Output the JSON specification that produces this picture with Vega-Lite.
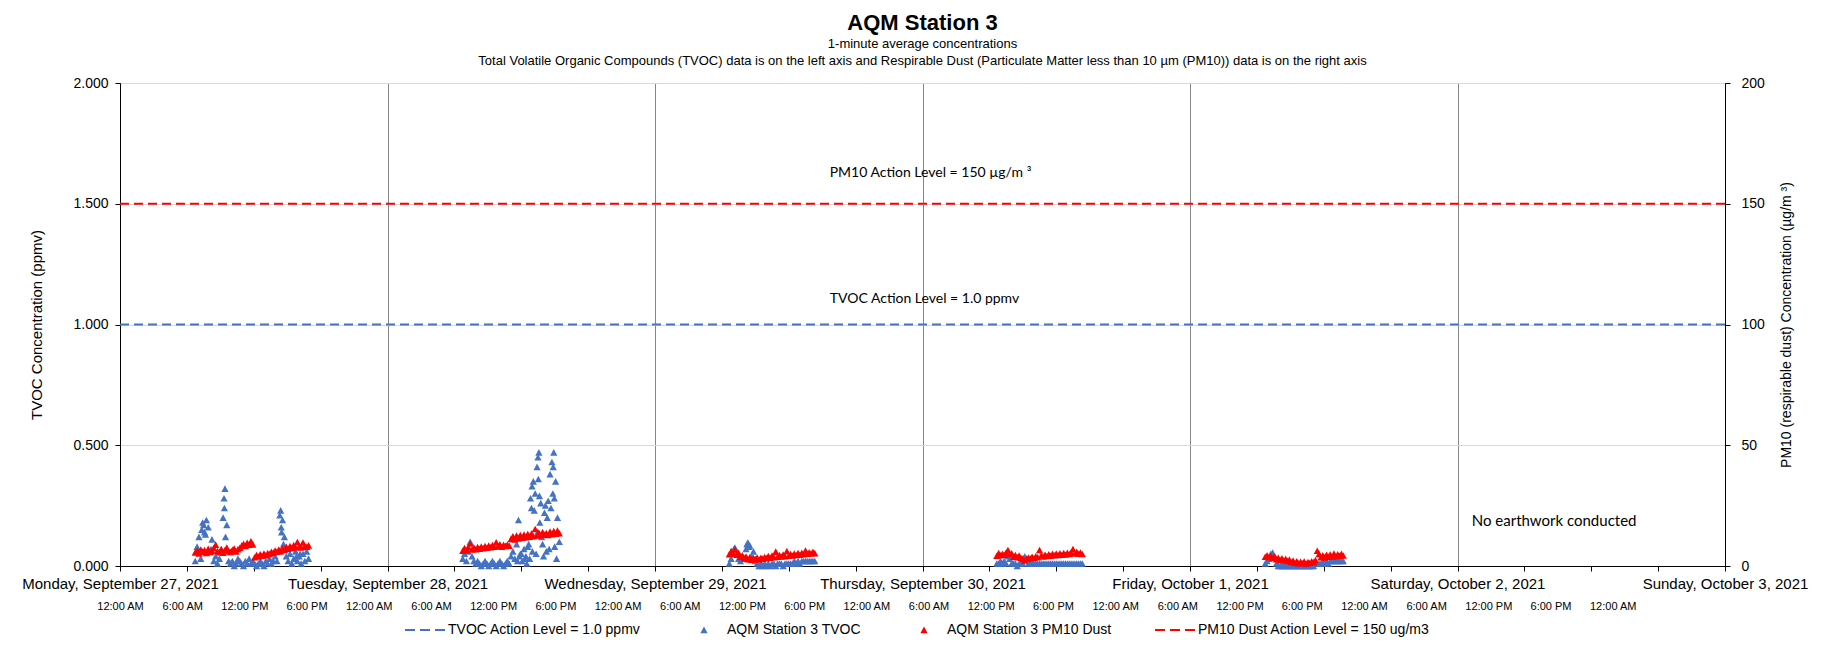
{
  "$schema": "https://vega.github.io/schema/vega-lite/v6.json",
  "autosize": {"type": "fit", "contains": "padding"},
  "width": 1825,
  "height": 647,
  "padding": {"left": 21, "top": 12, "right": 17, "bottom": 36},
  "background": "white",
  "title": {
    "text": "AQM Station 3",
    "subtitle": ["1-minute average concentrations", "Total Volatile Organic Compounds (TVOC) data is on the left axis and Respirable Dust (Particulate Matter less than 10 µm (PM10)) data is on the right axis"],
    "anchor": "middle",
    "font": "Liberation Sans", "fontSize": 22, "fontWeight": "bold", "color": "black",
    "subtitleFont": "Liberation Sans", "subtitleFontSize": 13, "subtitleColor": "black",
    "subtitleLineHeight": 17, "subtitlePadding": 3, "offset": 7
  },
  "data": {"values": [
    {"t":"2021-09-27T06:45","tvoc":0.02,"pm10":5.6},{"t":"2021-09-27T06:55","tvoc":0.08,"pm10":6.4},{"t":"2021-09-27T07:05","tvoc":0.12,"pm10":5.2},{"t":"2021-09-27T07:15","tvoc":0.03,"pm10":6.8},{"t":"2021-09-27T07:25","tvoc":0.18,"pm10":5.9},{"t":"2021-09-27T07:35","tvoc":0.14,"pm10":6.6},{"t":"2021-09-27T07:45","tvoc":0.19,"pm10":5.4},{"t":"2021-09-27T07:55","tvoc":0.16,"pm10":7.1},{"t":"2021-09-27T08:05","tvoc":0.06,"pm10":5.8},{"t":"2021-09-27T08:15","tvoc":0.11,"pm10":6.3},{"t":"2021-09-27T08:25","tvoc":0.02,"pm10":7.4},{"t":"2021-09-27T08:35","tvoc":0.04,"pm10":8.8},{"t":"2021-09-27T08:45","tvoc":0.01,"pm10":6.2},{"t":"2021-09-27T08:55","tvoc":0.03,"pm10":5.7},{"t":"2021-09-27T09:05","tvoc":0.07,"pm10":6.9},{"t":"2021-09-27T09:15","tvoc":0.20,"pm10":5.5},{"t":"2021-09-27T09:25","tvoc":0.32,"pm10":6.6},{"t":"2021-09-27T09:35","tvoc":0.17,"pm10":7.6},{"t":"2021-09-27T09:45","tvoc":0.02,"pm10":6.1},{"t":"2021-09-27T09:55","tvoc":0.01,"pm10":5.8},{"t":"2021-09-27T10:05","tvoc":0.02,"pm10":6.7},{"t":"2021-09-27T10:15","tvoc":0.00,"pm10":7.2},{"t":"2021-09-27T10:25","tvoc":0.01,"pm10":6.0},{"t":"2021-09-27T10:35","tvoc":0.03,"pm10":6.9},{"t":"2021-09-27T10:45","tvoc":0.02,"pm10":7.5},{"t":"2021-09-27T10:55","tvoc":0.01,"pm10":8.4},{"t":"2021-09-27T11:05","tvoc":0.00,"pm10":9.1},{"t":"2021-09-27T11:15","tvoc":0.02,"pm10":8.3},{"t":"2021-09-27T11:25","tvoc":0.01,"pm10":9.6},{"t":"2021-09-27T11:35","tvoc":0.03,"pm10":8.8},{"t":"2021-09-27T11:45","tvoc":0.01,"pm10":10.2},{"t":"2021-09-27T11:55","tvoc":0.02,"pm10":8.9},{"t":"2021-09-27T12:05","tvoc":0.01,"pm10":3.6},{"t":"2021-09-27T12:15","tvoc":0.00,"pm10":4.5},{"t":"2021-09-27T12:25","tvoc":0.01,"pm10":3.9},{"t":"2021-09-27T12:35","tvoc":0.02,"pm10":4.8},{"t":"2021-09-27T12:45","tvoc":0.01,"pm10":4.2},{"t":"2021-09-27T12:55","tvoc":0.00,"pm10":5.1},{"t":"2021-09-27T13:05","tvoc":0.02,"pm10":4.4},{"t":"2021-09-27T13:15","tvoc":0.01,"pm10":5.3},{"t":"2021-09-27T13:25","tvoc":0.03,"pm10":4.9},{"t":"2021-09-27T13:35","tvoc":0.01,"pm10":5.8},{"t":"2021-09-27T13:45","tvoc":0.02,"pm10":5.5},{"t":"2021-09-27T13:55","tvoc":0.04,"pm10":6.4},{"t":"2021-09-27T14:05","tvoc":0.02,"pm10":5.9},{"t":"2021-09-27T14:15","tvoc":0.06,"pm10":6.8},{"t":"2021-09-27T14:25","tvoc":0.23,"pm10":6.1},{"t":"2021-09-27T14:35","tvoc":0.19,"pm10":7.3},{"t":"2021-09-27T14:45","tvoc":0.12,"pm10":6.6},{"t":"2021-09-27T14:55","tvoc":0.04,"pm10":7.9},{"t":"2021-09-27T15:05","tvoc":0.02,"pm10":7.1},{"t":"2021-09-27T15:15","tvoc":0.05,"pm10":8.2},{"t":"2021-09-27T15:25","tvoc":0.01,"pm10":7.4},{"t":"2021-09-27T15:35","tvoc":0.03,"pm10":8.6},{"t":"2021-09-27T15:45","tvoc":0.06,"pm10":7.7},{"t":"2021-09-27T15:55","tvoc":0.02,"pm10":9.9},{"t":"2021-09-27T16:05","tvoc":0.04,"pm10":8.1},{"t":"2021-09-27T16:15","tvoc":0.01,"pm10":7.6},{"t":"2021-09-27T16:25","tvoc":0.05,"pm10":9.7},{"t":"2021-09-27T16:35","tvoc":0.02,"pm10":8.3},{"t":"2021-09-27T16:45","tvoc":0.06,"pm10":7.9},{"t":"2021-09-27T16:55","tvoc":0.03,"pm10":8.5},
    {"t":"2021-09-27T07:20","tvoc":0.15},{"t":"2021-09-27T07:30","tvoc":0.17},{"t":"2021-09-27T07:40","tvoc":0.13},{"t":"2021-09-27T08:10","tvoc":0.07},{"t":"2021-09-27T09:20","tvoc":0.28},{"t":"2021-09-27T09:22","tvoc":0.24},{"t":"2021-09-27T09:28","tvoc":0.12},{"t":"2021-09-27T14:20","tvoc":0.21},{"t":"2021-09-27T14:28","tvoc":0.16},{"t":"2021-09-27T14:30","tvoc":0.14},{"t":"2021-09-27T14:40","tvoc":0.09},{"t":"2021-09-27T15:50","tvoc":0.04},{"t":"2021-09-27T16:10","tvoc":0.05},
    {"t":"2021-09-28T06:45","tvoc":0.03,"pm10":6.3},{"t":"2021-09-28T06:55","tvoc":0.05,"pm10":7.4},{"t":"2021-09-28T07:05","tvoc":0.02,"pm10":6.5},{"t":"2021-09-28T07:15","tvoc":0.06,"pm10":7.7},{"t":"2021-09-28T07:25","tvoc":0.10,"pm10":9.3},{"t":"2021-09-28T07:35","tvoc":0.04,"pm10":6.8},{"t":"2021-09-28T07:45","tvoc":0.02,"pm10":7.6},{"t":"2021-09-28T07:55","tvoc":0.01,"pm10":6.9},{"t":"2021-09-28T08:05","tvoc":0.02,"pm10":7.8},{"t":"2021-09-28T08:15","tvoc":0.01,"pm10":7.1},{"t":"2021-09-28T08:25","tvoc":0.00,"pm10":8.0},{"t":"2021-09-28T08:35","tvoc":0.01,"pm10":7.3},{"t":"2021-09-28T08:45","tvoc":0.02,"pm10":8.2},{"t":"2021-09-28T08:55","tvoc":0.01,"pm10":7.5},{"t":"2021-09-28T09:05","tvoc":0.00,"pm10":8.4},{"t":"2021-09-28T09:15","tvoc":0.01,"pm10":7.7},{"t":"2021-09-28T09:25","tvoc":0.02,"pm10":8.6},{"t":"2021-09-28T09:35","tvoc":0.01,"pm10":7.9},{"t":"2021-09-28T09:45","tvoc":0.00,"pm10":9.8},{"t":"2021-09-28T09:55","tvoc":0.01,"pm10":8.2},{"t":"2021-09-28T10:05","tvoc":0.02,"pm10":8.9},{"t":"2021-09-28T10:15","tvoc":0.01,"pm10":8.0},{"t":"2021-09-28T10:25","tvoc":0.00,"pm10":8.7},{"t":"2021-09-28T10:35","tvoc":0.01,"pm10":8.3},{"t":"2021-09-28T10:45","tvoc":0.02,"pm10":8.8},{"t":"2021-09-28T10:55","tvoc":0.01,"pm10":8.4},{"t":"2021-09-28T11:05","tvoc":0.04,"pm10":11.2},{"t":"2021-09-28T11:15","tvoc":0.06,"pm10":12.3},{"t":"2021-09-28T11:25","tvoc":0.03,"pm10":11.0},{"t":"2021-09-28T11:35","tvoc":0.09,"pm10":12.6},{"t":"2021-09-28T11:45","tvoc":0.19,"pm10":11.4},{"t":"2021-09-28T11:55","tvoc":0.05,"pm10":12.8},{"t":"2021-09-28T12:05","tvoc":0.02,"pm10":11.7},{"t":"2021-09-28T12:15","tvoc":0.07,"pm10":13.0},{"t":"2021-09-28T12:25","tvoc":0.04,"pm10":11.9},{"t":"2021-09-28T12:35","tvoc":0.08,"pm10":13.2},{"t":"2021-09-28T12:45","tvoc":0.03,"pm10":12.1},{"t":"2021-09-28T12:55","tvoc":0.24,"pm10":13.4},{"t":"2021-09-28T13:05","tvoc":0.35,"pm10":12.3},{"t":"2021-09-28T13:15","tvoc":0.30,"pm10":15.3},{"t":"2021-09-28T13:25","tvoc":0.41,"pm10":12.6},{"t":"2021-09-28T13:35","tvoc":0.47,"pm10":13.8},{"t":"2021-09-28T13:45","tvoc":0.26,"pm10":12.7},{"t":"2021-09-28T13:55","tvoc":0.09,"pm10":14.0},{"t":"2021-09-28T14:05","tvoc":0.22,"pm10":12.9},{"t":"2021-09-28T14:15","tvoc":0.06,"pm10":13.6},{"t":"2021-09-28T14:25","tvoc":0.27,"pm10":12.8},{"t":"2021-09-28T14:35","tvoc":0.38,"pm10":14.2},{"t":"2021-09-28T14:45","tvoc":0.43,"pm10":13.1},{"t":"2021-09-28T14:55","tvoc":0.47,"pm10":14.4},{"t":"2021-09-28T15:05","tvoc":0.35,"pm10":13.3},{"t":"2021-09-28T15:15","tvoc":0.20,"pm10":14.6},{"t":"2021-09-28T15:25","tvoc":0.10,"pm10":13.5},
    {"t":"2021-09-28T11:40","tvoc":0.02},{"t":"2021-09-28T11:50","tvoc":0.04},{"t":"2021-09-28T12:00","tvoc":0.05},{"t":"2021-09-28T12:20","tvoc":0.03},{"t":"2021-09-28T12:30","tvoc":0.01},{"t":"2021-09-28T12:40","tvoc":0.09},{"t":"2021-09-28T12:50","tvoc":0.28},{"t":"2021-09-28T12:58","tvoc":0.33},{"t":"2021-09-28T13:00","tvoc":0.06},{"t":"2021-09-28T13:10","tvoc":0.23},{"t":"2021-09-28T13:20","tvoc":0.05},{"t":"2021-09-28T13:28","tvoc":0.14},{"t":"2021-09-28T13:30","tvoc":0.45},{"t":"2021-09-28T13:32","tvoc":0.36},{"t":"2021-09-28T13:38","tvoc":0.29},{"t":"2021-09-28T13:40","tvoc":0.18},{"t":"2021-09-28T13:50","tvoc":0.12},{"t":"2021-09-28T14:00","tvoc":0.04},{"t":"2021-09-28T14:10","tvoc":0.25},{"t":"2021-09-28T14:20","tvoc":0.20},{"t":"2021-09-28T14:30","tvoc":0.07},{"t":"2021-09-28T14:40","tvoc":0.24},{"t":"2021-09-28T14:50","tvoc":0.30},{"t":"2021-09-28T14:52","tvoc":0.41},{"t":"2021-09-28T14:58","tvoc":0.28},{"t":"2021-09-28T15:00","tvoc":0.08},{"t":"2021-09-28T15:10","tvoc":0.03},
    {"t":"2021-09-29T06:40","tvoc":0.01,"pm10":4.8},{"t":"2021-09-29T06:50","tvoc":0.03,"pm10":6.2},{"t":"2021-09-29T07:00","tvoc":0.05,"pm10":5.0},{"t":"2021-09-29T07:10","tvoc":0.076,"pm10":6.8},{"t":"2021-09-29T07:20","tvoc":0.06,"pm10":4.6},{"t":"2021-09-29T07:30","tvoc":0.03,"pm10":5.4},{"t":"2021-09-29T07:40","tvoc":0.02,"pm10":3.8},{"t":"2021-09-29T07:50","tvoc":0.04,"pm10":4.4},{"t":"2021-09-29T08:00","tvoc":0.03,"pm10":3.2},{"t":"2021-09-29T08:10","tvoc":0.07,"pm10":3.9},{"t":"2021-09-29T08:20","tvoc":0.097,"pm10":2.8},{"t":"2021-09-29T08:30","tvoc":0.085,"pm10":3.6},{"t":"2021-09-29T08:40","tvoc":0.04,"pm10":2.6},{"t":"2021-09-29T08:50","tvoc":0.06,"pm10":3.3},{"t":"2021-09-29T09:00","tvoc":0.02,"pm10":2.9},{"t":"2021-09-29T09:10","tvoc":0.01,"pm10":3.5},{"t":"2021-09-29T09:20","tvoc":0.00,"pm10":2.7},{"t":"2021-09-29T09:30","tvoc":0.01,"pm10":3.4},{"t":"2021-09-29T09:40","tvoc":0.00,"pm10":3.0},{"t":"2021-09-29T09:50","tvoc":0.01,"pm10":3.7},{"t":"2021-09-29T10:00","tvoc":0.00,"pm10":3.2},{"t":"2021-09-29T10:10","tvoc":0.01,"pm10":4.1},{"t":"2021-09-29T10:20","tvoc":0.00,"pm10":3.4},{"t":"2021-09-29T10:30","tvoc":0.01,"pm10":4.3},{"t":"2021-09-29T10:40","tvoc":0.01,"pm10":3.6},{"t":"2021-09-29T10:50","tvoc":0.00,"pm10":5.9},{"t":"2021-09-29T11:00","tvoc":0.01,"pm10":3.8},{"t":"2021-09-29T11:10","tvoc":0.01,"pm10":4.5},{"t":"2021-09-29T11:20","tvoc":0.01,"pm10":3.9},{"t":"2021-09-29T11:30","tvoc":0.00,"pm10":4.7},{"t":"2021-09-29T11:40","tvoc":0.01,"pm10":4.0},{"t":"2021-09-29T11:50","tvoc":0.01,"pm10":6.1},{"t":"2021-09-29T12:00","tvoc":0.01,"pm10":4.2},{"t":"2021-09-29T12:10","tvoc":0.01,"pm10":4.9},{"t":"2021-09-29T12:20","tvoc":0.01,"pm10":4.3},{"t":"2021-09-29T12:30","tvoc":0.02,"pm10":5.1},{"t":"2021-09-29T12:40","tvoc":0.01,"pm10":4.5},{"t":"2021-09-29T12:50","tvoc":0.02,"pm10":5.3},{"t":"2021-09-29T13:00","tvoc":0.01,"pm10":4.6},{"t":"2021-09-29T13:10","tvoc":0.02,"pm10":5.4},{"t":"2021-09-29T13:20","tvoc":0.02,"pm10":4.8},{"t":"2021-09-29T13:30","tvoc":0.02,"pm10":6.4},{"t":"2021-09-29T13:40","tvoc":0.02,"pm10":5.0},{"t":"2021-09-29T13:50","tvoc":0.02,"pm10":5.6},{"t":"2021-09-29T14:00","tvoc":0.02,"pm10":5.2},{"t":"2021-09-29T14:10","tvoc":0.02,"pm10":5.8},{"t":"2021-09-29T14:20","tvoc":0.02,"pm10":5.3},
    {"t":"2021-09-29T07:05","tvoc":0.07},{"t":"2021-09-29T08:15","tvoc":0.09},{"t":"2021-09-29T08:25","tvoc":0.08},
    {"t":"2021-09-30T06:40","tvoc":0.01,"pm10":4.2},{"t":"2021-09-30T06:50","tvoc":0.01,"pm10":5.3},{"t":"2021-09-30T07:00","tvoc":0.02,"pm10":4.4},{"t":"2021-09-30T07:10","tvoc":0.01,"pm10":5.0},{"t":"2021-09-30T07:20","tvoc":0.02,"pm10":4.6},{"t":"2021-09-30T07:30","tvoc":0.01,"pm10":5.5},{"t":"2021-09-30T07:40","tvoc":0.04,"pm10":6.6},{"t":"2021-09-30T07:50","tvoc":0.03,"pm10":4.8},{"t":"2021-09-30T08:00","tvoc":0.01,"pm10":5.2},{"t":"2021-09-30T08:10","tvoc":0.01,"pm10":3.8},{"t":"2021-09-30T08:20","tvoc":0.01,"pm10":4.5},{"t":"2021-09-30T08:30","tvoc":0.00,"pm10":3.6},{"t":"2021-09-30T08:40","tvoc":0.01,"pm10":4.3},{"t":"2021-09-30T08:50","tvoc":0.01,"pm10":3.4},{"t":"2021-09-30T09:00","tvoc":0.01,"pm10":3.0},{"t":"2021-09-30T09:10","tvoc":0.04,"pm10":2.3},{"t":"2021-09-30T09:20","tvoc":0.03,"pm10":2.9},{"t":"2021-09-30T09:30","tvoc":0.01,"pm10":3.5},{"t":"2021-09-30T09:40","tvoc":0.01,"pm10":3.1},{"t":"2021-09-30T09:50","tvoc":0.01,"pm10":3.8},{"t":"2021-09-30T10:00","tvoc":0.01,"pm10":3.3},{"t":"2021-09-30T10:10","tvoc":0.01,"pm10":4.0},{"t":"2021-09-30T10:20","tvoc":0.01,"pm10":3.6},{"t":"2021-09-30T10:30","tvoc":0.01,"pm10":6.6},{"t":"2021-09-30T10:40","tvoc":0.01,"pm10":4.4},{"t":"2021-09-30T10:50","tvoc":0.01,"pm10":3.9},{"t":"2021-09-30T11:00","tvoc":0.01,"pm10":4.6},{"t":"2021-09-30T11:10","tvoc":0.01,"pm10":4.1},{"t":"2021-09-30T11:20","tvoc":0.01,"pm10":4.8},{"t":"2021-09-30T11:30","tvoc":0.01,"pm10":4.2},{"t":"2021-09-30T11:40","tvoc":0.01,"pm10":5.0},{"t":"2021-09-30T11:50","tvoc":0.01,"pm10":4.4},{"t":"2021-09-30T12:00","tvoc":0.01,"pm10":5.1},{"t":"2021-09-30T12:10","tvoc":0.01,"pm10":4.5},{"t":"2021-09-30T12:20","tvoc":0.01,"pm10":5.2},{"t":"2021-09-30T12:30","tvoc":0.01,"pm10":4.6},{"t":"2021-09-30T12:40","tvoc":0.01,"pm10":5.3},{"t":"2021-09-30T12:50","tvoc":0.01,"pm10":4.7},{"t":"2021-09-30T13:00","tvoc":0.01,"pm10":5.4},{"t":"2021-09-30T13:10","tvoc":0.01,"pm10":4.9},{"t":"2021-09-30T13:20","tvoc":0.01,"pm10":5.6},{"t":"2021-09-30T13:30","tvoc":0.01,"pm10":7.0},{"t":"2021-09-30T13:40","tvoc":0.01,"pm10":5.2},{"t":"2021-09-30T13:50","tvoc":0.01,"pm10":5.8},{"t":"2021-09-30T14:00","tvoc":0.01,"pm10":5.0},{"t":"2021-09-30T14:10","tvoc":0.01,"pm10":5.5},{"t":"2021-09-30T14:20","tvoc":0.01,"pm10":4.9},
    {"t":"2021-10-01T06:45","tvoc":0.01,"pm10":3.8},{"t":"2021-10-01T06:55","tvoc":0.02,"pm10":4.4},{"t":"2021-10-01T07:05","tvoc":0.03,"pm10":3.6},{"t":"2021-10-01T07:15","tvoc":0.05,"pm10":4.2},{"t":"2021-10-01T07:25","tvoc":0.055,"pm10":3.4},{"t":"2021-10-01T07:35","tvoc":0.04,"pm10":3.9},{"t":"2021-10-01T07:45","tvoc":0.01,"pm10":2.8},{"t":"2021-10-01T07:55","tvoc":0.00,"pm10":3.4},{"t":"2021-10-01T08:05","tvoc":0.00,"pm10":2.5},{"t":"2021-10-01T08:15","tvoc":0.00,"pm10":3.1},{"t":"2021-10-01T08:25","tvoc":0.00,"pm10":2.3},{"t":"2021-10-01T08:35","tvoc":0.00,"pm10":2.9},{"t":"2021-10-01T08:45","tvoc":0.00,"pm10":2.1},{"t":"2021-10-01T08:55","tvoc":0.00,"pm10":2.6},{"t":"2021-10-01T09:05","tvoc":0.00,"pm10":1.6},{"t":"2021-10-01T09:15","tvoc":0.00,"pm10":2.2},{"t":"2021-10-01T09:25","tvoc":0.00,"pm10":1.3},{"t":"2021-10-01T09:35","tvoc":0.00,"pm10":1.9},{"t":"2021-10-01T09:45","tvoc":0.00,"pm10":1.1},{"t":"2021-10-01T09:55","tvoc":0.00,"pm10":1.7},{"t":"2021-10-01T10:05","tvoc":0.00,"pm10":1.2},{"t":"2021-10-01T10:15","tvoc":0.00,"pm10":1.8},{"t":"2021-10-01T10:25","tvoc":0.00,"pm10":1.0},{"t":"2021-10-01T10:35","tvoc":0.00,"pm10":1.6},{"t":"2021-10-01T10:45","tvoc":0.00,"pm10":1.3},{"t":"2021-10-01T10:55","tvoc":0.00,"pm10":1.9},{"t":"2021-10-01T11:05","tvoc":0.00,"pm10":1.5},{"t":"2021-10-01T11:15","tvoc":0.01,"pm10":2.4},{"t":"2021-10-01T11:25","tvoc":0.01,"pm10":6.3},{"t":"2021-10-01T11:35","tvoc":0.01,"pm10":4.9},{"t":"2021-10-01T11:45","tvoc":0.01,"pm10":3.6},{"t":"2021-10-01T11:55","tvoc":0.02,"pm10":4.4},{"t":"2021-10-01T12:05","tvoc":0.01,"pm10":3.5},{"t":"2021-10-01T12:15","tvoc":0.02,"pm10":4.6},{"t":"2021-10-01T12:25","tvoc":0.01,"pm10":3.8},{"t":"2021-10-01T12:35","tvoc":0.02,"pm10":4.7},{"t":"2021-10-01T12:45","tvoc":0.02,"pm10":3.9},{"t":"2021-10-01T12:55","tvoc":0.02,"pm10":5.1},{"t":"2021-10-01T13:05","tvoc":0.02,"pm10":4.0},{"t":"2021-10-01T13:15","tvoc":0.02,"pm10":4.8},{"t":"2021-10-01T13:25","tvoc":0.02,"pm10":4.1},{"t":"2021-10-01T13:35","tvoc":0.02,"pm10":5.0},{"t":"2021-10-01T13:45","tvoc":0.02,"pm10":4.3}
  ]},
  "layer": [
    {
      "layer": [
        {
          "layer": [
            {
              "mark": {"type": "point", "filled": true, "size": 1600, "opacity": 1},
              "encoding": {
                "x": {"field": "t", "type": "temporal",
                  "scale": {"domain": ["2021-09-27T00:00:00", "2021-10-03T00:00:00"]},
                  "axis": {"title": null, "tickCount": 24, "tickSize": 5, "grid": true, "gridColor": "#868686",
                    "labelExpr": "hours(datum.value) == 0 ? timeFormat(datum.value, '%A, %B %-d, %Y') : ''",
                    "gridOpacity": {"condition": {"test": "hours(datum.value) == 0", "value": 1}, "value": 0},
                    "labelFontSize": 15, "labelPadding": 5, "labelFlush": false, "labelOverlap": false, "labelLimit": 400}},
                "y": {"field": "tvoc", "type": "quantitative", "scale": {"domain": [0, 2], "nice": false},
                  "axis": {"orient": "left", "title": "TVOC Concentration (ppmv)",
                    "values": [0, 0.5, 1, 1.5, 2], "format": ".3f",
                    "tickSize": 5, "labelPadding": 7, "labelFontSize": 14, "grid": true, "gridColor": "#d9d9d9",
                    "titleFontSize": 15, "titlePadding": 28}},
                "color": {"datum": "AQM Station 3 TVOC", "type": "nominal",
                  "scale": {"domain": ["TVOC Action Level = 1.0 ppmv", "AQM Station 3 TVOC", "AQM Station 3 PM10 Dust", "PM10 Dust Action Level = 150 ug/m3"], "range": ["#4472C4", "#4472C4", "#FF0000", "#FF0000"]},
                  "legend": {"orient": "none", "legendX": 285, "legendY": 527, "direction": "horizontal", "title": null, "symbolSize": 1600, "symbolStrokeWidth": 0, "labelOffset": 3, "labelFont": "Liberation Sans", "labelFontSize": 14, "labelColor": "black", "columnPadding": 43, "labelLimit": 400}},
                "shape": {"datum": "AQM Station 3 TVOC", "type": "nominal",
                  "scale": {"domain": ["TVOC Action Level = 1.0 ppmv", "AQM Station 3 TVOC", "AQM Station 3 PM10 Dust", "PM10 Dust Action Level = 150 ug/m3"],
                    "range": ["M-1,-0.05L-0.5,-0.05L-0.5,0.05L-1,0.05Z M-0.25,-0.05L0.25,-0.05L0.25,0.05L-0.25,0.05Z M0.5,-0.05L1,-0.05L1,0.05L0.5,0.05Z", "M0,-0.17L0.18,0.16L-0.18,0.16Z", "M0,-0.17L0.18,0.16L-0.18,0.16Z", "M-1,-0.05L-0.5,-0.05L-0.5,0.05L-1,0.05Z M-0.25,-0.05L0.25,-0.05L0.25,0.05L-0.25,0.05Z M0.5,-0.05L1,-0.05L1,0.05L0.5,0.05Z"]},
                  "legend": {"orient": "none", "legendX": 285, "legendY": 527, "direction": "horizontal", "title": null, "symbolSize": 1600, "symbolStrokeWidth": 0, "labelOffset": 3, "labelFont": "Liberation Sans", "labelFontSize": 14, "labelColor": "black", "columnPadding": 43, "labelLimit": 400}}
              }
            },
            {
              "data": {"values": [{"tvoc": 1.0, "label": "TVOC Action Level = 1.0 ppmv"}]},
              "mark": {"type": "rule", "color": "#4472C4", "strokeWidth": 2, "strokeDash": [9, 5]},
              "encoding": {"y": {"field": "tvoc", "type": "quantitative"}}
            },
            {
              "data": {"values": [{"tvoc": 1.0, "label": "TVOC Action Level = 1.0 ppmv"}]},
              "mark": {"type": "text", "font": "Lato", "fontSize": 14, "color": "black", "dy": -26, "dx": 2},
              "encoding": {"y": {"field": "tvoc", "type": "quantitative"}, "text": {"field": "label"}}
            },
            {
              "data": {"values": [{"note": "No earthwork conducted", "t": "2021-10-02T08:40:00"}]},
              "mark": {"type": "text", "font": "Lato", "fontSize": 15, "color": "black"},
              "encoding": {
                "x": {"field": "t", "type": "temporal"},
                "y": {"datum": 0.185},
                "text": {"field": "note"}
              }
            }
          ]
        },
        {
          "layer": [
            {
              "mark": {"type": "point", "filled": true, "size": 1600, "opacity": 1},
              "encoding": {
                "x": {"field": "t", "type": "temporal"},
                "y": {"field": "pm10", "type": "quantitative", "scale": {"domain": [0, 200], "nice": false},
                  "axis": {"orient": "right", "title": "PM10 (respirable dust) Concentration (µg/m ³)",
                    "values": [0, 50, 100, 150, 200],
                    "tickSize": 5, "labelPadding": 11, "labelFontSize": 14, "grid": false, "titleFontSize": 14, "titlePadding": 15,
                    "titleAngle": 270, "titleBaseline": "top"}},
                "color": {"datum": "AQM Station 3 PM10 Dust", "type": "nominal"},
                "shape": {"datum": "AQM Station 3 PM10 Dust", "type": "nominal"}
              }
            },
            {
              "data": {"values": [{"pm10": 150, "label": "PM10 Action Level = 150 µg/m ³"}]},
              "mark": {"type": "rule", "color": "#FF0000", "strokeWidth": 2, "strokeDash": [9, 5]},
              "encoding": {"y": {"field": "pm10", "type": "quantitative"}}
            },
            {
              "data": {"values": [{"pm10": 150, "label": "PM10 Action Level = 150 µg/m ³"}]},
              "mark": {"type": "text", "font": "Lato", "fontSize": 14, "color": "black", "dy": -31, "dx": 8},
              "encoding": {"y": {"field": "pm10", "type": "quantitative"}, "text": {"field": "label"}}
            }
          ]
        }
      ],
      "resolve": {"scale": {"y": "independent"}}
    },
    {
      "mark": {"type": "point", "opacity": 0},
      "encoding": {
        "x": {"field": "t", "type": "temporal",
          "scale": {"domain": ["2021-09-27T00:00:00", "2021-10-03T10:50:00"]},
          "axis": {"orient": "bottom", "title": null, "tickCount": 26,
            "labelExpr": "datum.value > datetime(2021, 9, 3, 0, 1) ? '' : timeFormat(datum.value, '%-I:%M %p')",
            "ticks": false, "tickSize": 0, "domain": false, "grid": false, "labelFontSize": 11, "labelPadding": 34, "labelFlush": false, "labelOverlap": false}}
      }
    }
  ],
  "resolve": {"scale": {"x": "independent", "y": "independent"}},
  "config": {
    "font": "Liberation Sans",
    "view": {"stroke": null},
    "axis": {"labelFont": "Liberation Sans", "titleFont": "Liberation Sans", "labelColor": "black", "titleColor": "black", "tickColor": "black", "domainColor": "black", "titleFontWeight": "normal"}
  }
}
